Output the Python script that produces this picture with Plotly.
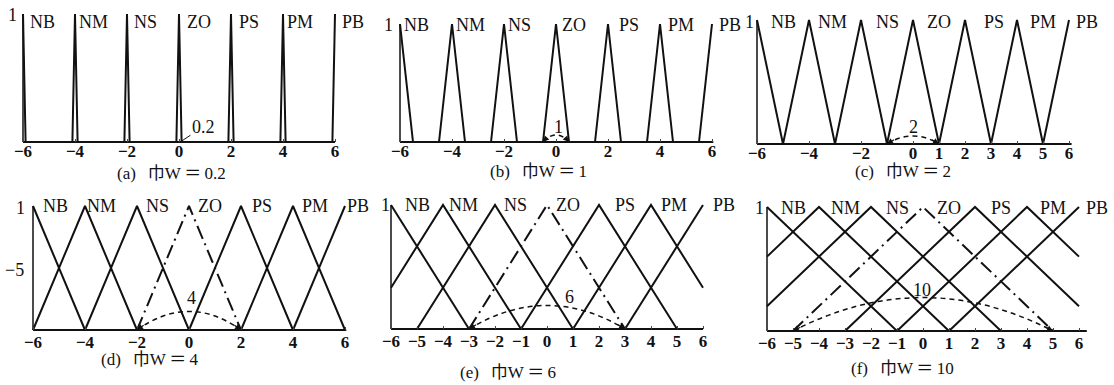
import math
import plotly.graph_objects as go

# ---- data -----------------------------------------------------------------
TERMS = ["NB", "NM", "NS", "ZO", "PS", "PM", "PB"]
CENTERS = [-6, -4, -2, 0, 2, 4, 6]
PANEL_TAGS = ["(a)", "(b)", "(c)", "(d)", "(e)", "(f)"]
WIDTHS = [0.2, 1, 2, 4, 6, 10]
WIDTH_LABELS = ["0.2", "1", "2", "4", "6", "10"]
ARC_HEIGHTS = [0.0, 0.06, 0.065, 0.15, 0.19, 0.27]
TICKS_EVEN = [-6, -4, -2, 0, 2, 4, 6]
TICKS_C = [-6, -4, -2, 0, 1, 2, 3, 4, 5, 6]
TICKS_ALL = [-6, -5, -4, -3, -2, -1, 0, 1, 2, 3, 4, 5, 6]
PANEL_TICKS = [TICKS_EVEN, TICKS_EVEN, TICKS_C, TICKS_EVEN, TICKS_ALL, TICKS_ALL]
HALF_MARK_D = "−5"

# ---- layout ---------------------------------------------------------------
FIG_W, FIG_H = 1114, 385
UNIT = 26                      # px per x unit
X_RANGE = [-6.8, 7.2]
Y_RANGE = [-0.03, 1.1]
# pixel position of x=-6, y=0 and y=1 for each panel
PANEL_BOX = [(23, 142, 14), (400, 142, 24), (757, 144, 20),
             (33, 330, 206), (391, 329, 205), (767, 331, 207)]
TICK_STANDOFF = [-3, -3, -3, 0, 0, 0]
TERM_LABEL_X = [
    [-5.26, -3.3, -1.3, 0.75, 2.7, 4.65, 6.7],
    [-5.35, -3.3, -1.4, 0.7, 2.8, 4.8, 6.7],
    [-5.0, -3.1, -1.0, 1.0, 3.1, 5.0, 6.7],
    [-5.15, -3.35, -1.2, 0.8, 2.8, 4.85, 6.5],
    [-5.0, -3.2, -1.2, 0.8, 3.0, 4.9, 6.8],
    [-5.0, -3.0, -1.0, 1.0, 3.0, 5.0, 6.7],
]
TERM_LABEL_Y = [0.94, 0.99, 0.98, 1.0, 1.0, 0.99]
ONE_LABEL = [(-6.42, 0.99), (-6.46, 0.99), (-6.27, 0.98),
             (-6.5, 0.98), (-6.23, 1.0), (-6.27, 0.995)]
WIDTH_LABEL_POS = [(0.92, 0.12), (0.08, 0.13), (0.0, 0.14),
                   (0.1, 0.26), (0.88, 0.26), (-0.04, 0.33)]
CAPTION_PX = [(171, 173), (538, 171), (903, 172),
              (150, 359), (508, 372), (902, 368)]
BASE_END = [6.0, 6.05, 6.1, 6.05, 6.0, 6.3]

INK = "#111111"
FONT = "Liberation Serif, Noto Sans CJK JP, serif"
LABEL_SIZE = 18
TICK_SIZE = 17
CAPTION_SIZE = 17


def triangle(center, width):
    """Vertices of a triangular membership function clipped to [-6, 6]."""
    half = width / 2
    xs, ys = [], []
    left = center - half
    if left >= -6:
        xs.append(left); ys.append(0)
    else:
        xs.append(-6); ys.append(1 - (center + 6) / half)
    xs.append(center); ys.append(1)
    right = center + half
    if right <= 6:
        xs.append(right); ys.append(0)
    else:
        xs.append(6); ys.append(1 - (6 - center) / half)
    return xs, ys


fig = go.Figure()
shapes, annos = [], []
layout_axes = {}

for i, w in enumerate(WIDTHS):
    n = "" if i == 0 else str(i + 1)
    xr, yr = "x" + n, "y" + n
    x0, base, top = PANEL_BOX[i]
    sy = base - top
    bottom_px = base - Y_RANGE[0] * sy
    top_px = base - Y_RANGE[1] * sy
    xdom = [(x0 + (X_RANGE[0] + 6) * UNIT) / FIG_W,
            (x0 + (X_RANGE[1] + 6) * UNIT) / FIG_W]
    ydom = [1 - bottom_px / FIG_H, 1 - top_px / FIG_H]

    layout_axes["xaxis" + n] = dict(
        domain=xdom, range=X_RANGE, anchor="free", position=1 - base / FIG_H,
        showgrid=False, zeroline=False, showline=False,
        tickvals=PANEL_TICKS[i],
        ticktext=[("<b>−" + str(-t) + "</b>") if t < 0 else "<b>" + str(t) + "</b>"
                  for t in PANEL_TICKS[i]],
        ticks="inside", ticklen=3, tickwidth=1, tickcolor="#444",
        ticklabelstandoff=TICK_STANDOFF[i],
        tickfont=dict(family=FONT, size=TICK_SIZE, color=INK),
        fixedrange=True,
    )
    layout_axes["yaxis" + n] = dict(domain=ydom, range=Y_RANGE, visible=False,
                                    fixedrange=True)

    # axes drawn as lines from -6
    fig.add_trace(go.Scatter(x=[-6, BASE_END[i]], y=[0, 0], mode="lines",
                             line=dict(color=INK, width=2), xaxis=xr, yaxis=yr,
                             hoverinfo="skip", showlegend=False))
    fig.add_trace(go.Scatter(x=[-6, -6], y=[0, 1], mode="lines",
                             line=dict(color=INK, width=1.5), xaxis=xr, yaxis=yr,
                             hoverinfo="skip", showlegend=False))

    # membership functions
    for term, c in zip(TERMS, CENTERS):
        xs, ys = triangle(c, w)
        dash = "solid"
        if term == "ZO" and w >= 4:
            dash = "14px,5px,2px,5px"
        fig.add_trace(go.Scatter(x=xs, y=ys, mode="lines",
                                 line=dict(color=INK, width=2, dash=dash),
                                 xaxis=xr, yaxis=yr, hoverinfo="skip",
                                 showlegend=False))

    # term labels
    for term, lx in zip(TERMS, TERM_LABEL_X[i]):
        annos.append(dict(x=lx, y=TERM_LABEL_Y[i], xref=xr, yref=yr, text=term,
                          showarrow=False, xanchor="center", yanchor="middle",
                          font=dict(family=FONT, size=LABEL_SIZE, color=INK)))
    ox, oy = ONE_LABEL[i]
    annos.append(dict(x=ox, y=oy, xref=xr, yref=yr, text="1", showarrow=False,
                      xanchor="center", yanchor="middle",
                      font=dict(family=FONT, size=LABEL_SIZE, color=INK)))
    if i == 3:
        annos.append(dict(x=-6.7, y=0.48, xref=xr, yref=yr, text=HALF_MARK_D,
                          showarrow=False, xanchor="center", yanchor="middle",
                          font=dict(family=FONT, size=LABEL_SIZE, color=INK)))

    # support width of ZO
    half = w / 2
    lx, ly = WIDTH_LABEL_POS[i]
    if i == 0:
        annos.append(dict(x=half + 0.02, y=0.01, xref=xr, yref=yr,
                          text=WIDTH_LABELS[i], showarrow=True,
                          ax=(lx - half) * UNIT, ay=-(ly - 0.01) * sy,
                          arrowhead=0, arrowwidth=1, arrowcolor=INK,
                          font=dict(family=FONT, size=LABEL_SIZE, color=INK)))
    else:
        h = ARC_HEIGHTS[i]
        shapes.append(dict(type="path", xref=xr, yref=yr,
                           path=f"M {-half},0 Q 0,{2 * h} {half},0",
                           line=dict(color=INK, width=1.5, dash="5px,4px")))
        annos.append(dict(x=lx, y=ly, xref=xr, yref=yr, text=WIDTH_LABELS[i],
                          showarrow=False, xanchor="center", yanchor="middle",
                          font=dict(family=FONT, size=LABEL_SIZE, color=INK)))
        # arrowheads along the arc tangent at both ends
        slope = (2 * h * sy) / (half * UNIT)
        length = min(10, half * UNIT * 0.4)
        dx = length / math.sqrt(1 + slope * slope)
        dy = slope * dx
        for sign in (-1, 1):
            annos.append(dict(x=sign * half, y=0, xref=xr, yref=yr, text="",
                              showarrow=True, ax=-sign * dx, ay=-dy,
                              arrowhead=2, arrowsize=1, arrowwidth=1.2,
                              arrowcolor=INK, standoff=0))

    # caption
    cx, cy = CAPTION_PX[i]
    annos.append(dict(x=cx / FIG_W, y=1 - cy / FIG_H, xref="paper", yref="paper",
                      text=f"{PANEL_TAGS[i]}\u2002\u2009巾W\u2009＝\u2009{WIDTH_LABELS[i]}",
                      showarrow=False, xanchor="center", yanchor="middle",
                      font=dict(family=FONT, size=CAPTION_SIZE, color=INK)))

fig.update_layout(
    width=FIG_W, height=FIG_H,
    margin=dict(l=0, r=0, t=0, b=0),
    paper_bgcolor="white", plot_bgcolor="rgba(0,0,0,0)",
    shapes=shapes, annotations=annos, showlegend=False,
    **layout_axes,
)

fig.write_html("out.html", config={"displayModeBar": False})
